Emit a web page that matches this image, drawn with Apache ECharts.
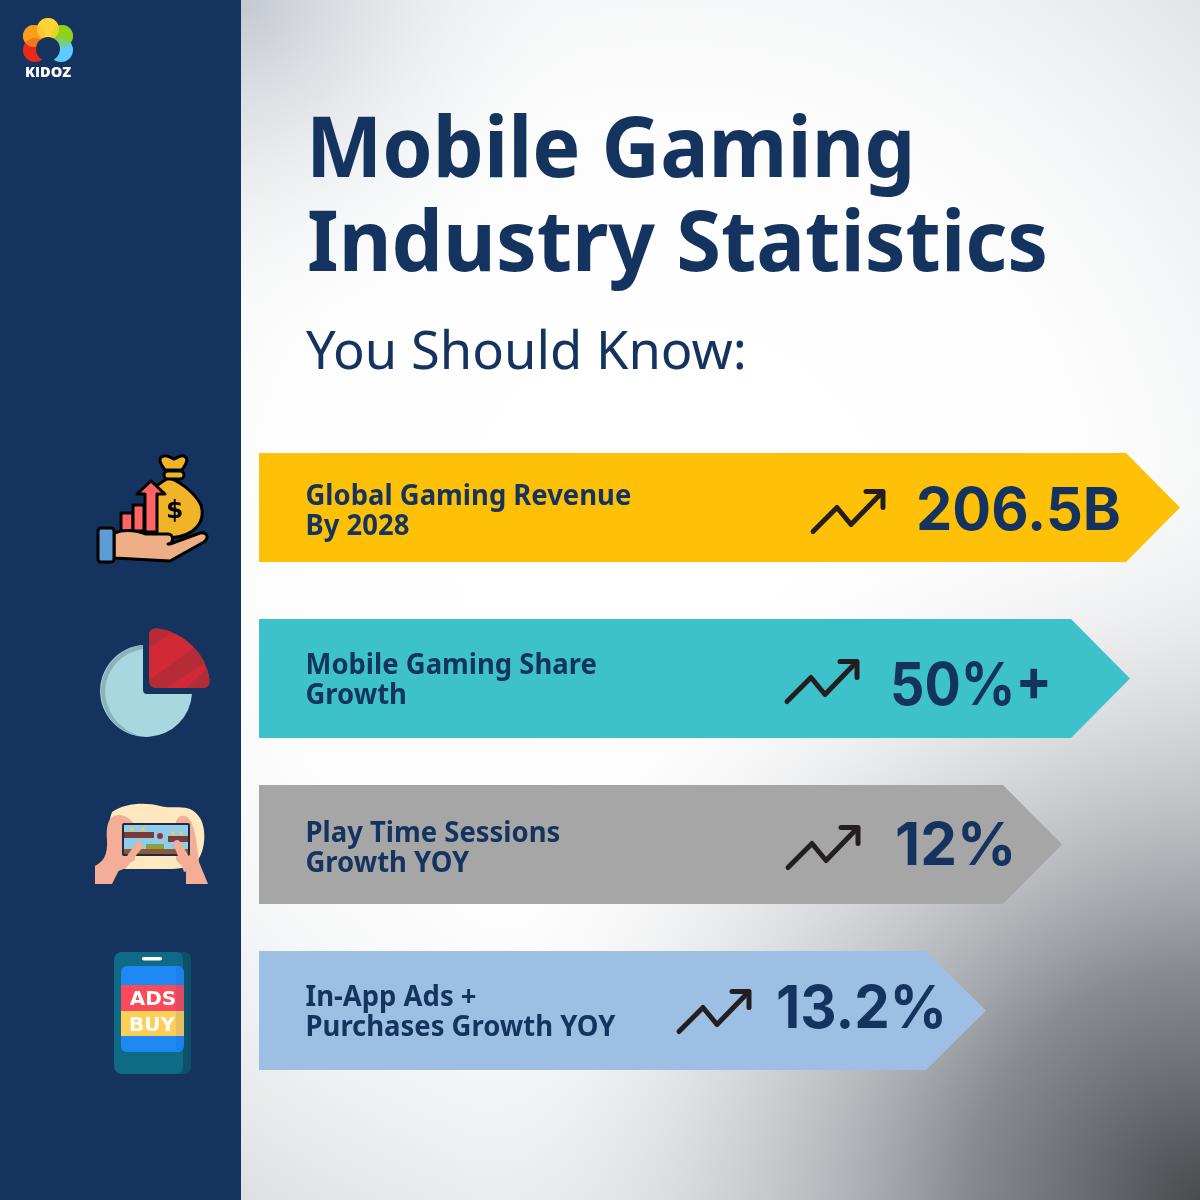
<!DOCTYPE html>
<html><head><meta charset="utf-8">
<style>html,body{margin:0;padding:0;background:#fff}#c{width:1200px;height:1200px}</style>
<script src="https://cdn.jsdelivr.net/npm/echarts@6/dist/echarts.min.js"></script>
</head><body><div id="c"></div>
<script>
// ---- data ----
const categories = ['Global Gaming Revenue\nBy 2028','Mobile Gaming Share\nGrowth','Play Time Sessions\nGrowth YOY','In-App Ads +\nPurchases Growth YOY'];
const valueLabels = ['206.5B','50%+','12%','13.2%'];
const arrowLengths = [921,871,803,727];
// ---- style ----
const NAVY='#14345f', INK='#231f20';
const barColors=['#ffc107','#3dc2cb','#a6a6a6','#9dbfe3'];
const rowHeights=[109,119,119,119];
const rowShift=[-5,0,0,0];
const headLen=[54,59,59,60];
const labelShift=[5,3,5,3];
const labelGap=[30,30,30,30];
const trendX=[812,786,787,678];
const trendShift=[14,13,13,11];
const valueX=[916,890,895,776];
const valueShift=[4,8,2,-1];
const valueScale=[0.978,0.913,0.99,0.955];
const W=1200,H=1200;

function renderArrow(params,api){
  const i=params.dataIndex;
  const base=api.coord([0,i]);
  const tip=api.coord([api.value(0),i]);
  const cy=base[1]+rowShift[i];
  const h=rowHeights[i], x0=259, tx=x0+tip[0];
  const lines=categories[i].split('\n');
  const lc=cy+labelShift[i];
  const tStyle={fill:'none',stroke:INK,lineWidth:5,lineCap:'round',lineJoin:'round'};
  const lab=(t,y)=>({type:'text',x:305.5,y,scaleX:0.98,style:{text:t,x:0,y:0,fill:NAVY,font:'700 28px "Noto Sans"',textVerticalAlign:'middle',textAlign:'left'}});
  const children=[
    {type:'polygon',shape:{points:[[x0,cy-h/2],[tx-headLen[i],cy-h/2],[tx,cy],[tx-headLen[i],cy+h/2],[x0,cy+h/2]]},style:{fill:barColors[i]}},
    lab(lines[0],lc-labelGap[i]/2),
    lab(lines[1],lc+labelGap[i]/2),
    {type:'text',x:valueX[i],y:cy+valueShift[i]+1,scaleX:valueScale[i],style:{text:valueLabels[i],x:0,y:0,fill:NAVY,font:'700 59px Inter',textVerticalAlign:'middle',textAlign:'left'}},
    {type:'polyline',x:trendX[i],y:cy+trendShift[i]-30,shape:{points:[[1,40],[25,16],[39,33],[70,1]]},style:tStyle},
    {type:'polyline',x:trendX[i],y:cy+trendShift[i]-30,shape:{points:[[54,0],[71,0],[71,16]]},style:tStyle}
  ];
  return {type:'group',children};
}

const panel={x:241,y:0,width:959,height:1200};
const bg=[
 {type:'rect',z:-10,shape:panel,style:{fill:'#ffffff'}},
 {type:'rect',z:-9,shape:panel,style:{fill:{type:'radial',x:0.45,y:0.45,r:0.85,colorStops:[{offset:0,color:'rgba(255,255,255,0)'},{offset:0.5,color:'rgba(245,246,247,0.2)'},{offset:1,color:'rgba(215,218,222,0.95)'}]}}},
 {type:'rect',z:-8,shape:panel,style:{fill:{type:'radial',x:0,y:0,r:0.38,colorStops:[{offset:0,color:'rgba(170,178,188,0.6)'},{offset:1,color:'rgba(255,255,255,0)'}]}}},
 {type:'rect',z:-7,shape:panel,style:{fill:{type:'radial',x:1,y:1,r:0.8,colorStops:[{offset:0,color:'rgba(70,72,76,0.98)'},{offset:0.3,color:'rgba(110,114,120,0.8)'},{offset:0.65,color:'rgba(175,178,184,0.4)'},{offset:1,color:'rgba(255,255,255,0)'}]}}},
 {type:'rect',z:-6,shape:{x:0,y:0,width:241,height:1200},style:{fill:NAVY}}
];
const txt=(t,x,y,font,sx)=>({type:'text',z:20,x,y,scaleX:sx||1,style:{text:t,x:0,y:0,font,fill:NAVY,textVerticalAlign:'middle'}});
const titles=[
 txt('Mobile Gaming',306,153,'700 84px "Noto Sans"',0.963),
 txt('Industry Statistics',307,247,'700 84px "Noto Sans"',0.969),
 txt('You Should Know:',306,354,'400 52.5px "Noto Sans"')
];
const circ=(cx,cy,r,fill,op)=>({type:'circle',shape:{cx,cy,r},style:{fill,opacity:op==null?1:op}});
const p=(d,fill,stroke,lw,op)=>{
  const b=echarts.graphic.makePath(d,{}).getBoundingRect();
  return {type:'path',shape:{pathData:d,layout:'cover',x:b.x,y:b.y,width:b.width,height:b.height},style:{fill:fill||'none',stroke:stroke||null,lineWidth:lw||0,opacity:op==null?1:op,lineJoin:'round',lineCap:'round'}};
};
const rect=(x,y,w,h,fill,r,extra)=>({type:'rect',shape:{x,y,width:w,height:h,r:r||0},style:Object.assign({fill},extra||{})});
const logo=[
 circ(34,36,11,'#fb9f1c'),circ(62,36,11,'#8fd019'),circ(48,29,11,'#ffd335'),
 circ(35,50,12,'#e8291c'),circ(61,50,12,'#5ecbff'),
 circ(34,36,11,'#fb9f1c',.65),circ(62,36,11,'#8fd019',.55),
 circ(48,29,11,'#ffd335',.6),
 circ(48,49,12,NAVY),
 rect(44,57,8,7,NAVY),
 {type:'text',style:{text:'KIDOZ',x:25,y:72.5,font:'800 14.5px "Open Sans"',fill:'#ffffff',textVerticalAlign:'middle'}}
];
const K='#000';
const moneyIcon=[
 p('M165 470 C159 462 158 457 164 456 C168 455 171 458 174 459 C177 458 180 455 184 456 C189 458 187 463 182 470 Z','#f0b429',K,3),
 p('M168 478 C176 479 194 491 201 505 C206 521 196 536 170 538 L150 538 L150 490 Z','#f0b429',K,3),
 rect(164,471,20,8,'#f0b429',4,{stroke:K,lineWidth:3}),
 {type:'text',style:{text:'$',x:166,y:511,font:'700 25px "DejaVu Sans"',fill:'#000',textVerticalAlign:'middle'}},
 rect(121,513,12,18,'#ff6464',0,{stroke:K,lineWidth:3}),
 rect(133,505,11,26,'#ff6464',0,{stroke:K,lineWidth:3}),
 p('M145 532 L145 494 L137 494 L151 481 L165 494 L157 494 L157 532 Z','#ff6464',K,3),
 p('M114 533 C125 529 135 530 146 534 L168 534 C174 534 174 543 168 544 L170 544 L200 533 C208 532 209 538 204 542 L170 561 L114 558 Z','#eeaf86',K,3),
 p('M143 543.5 L170 543.5','none',K,3),
 rect(98,528,16,34,'#5c9bd6',3,{stroke:K,lineWidth:3})
];
const pieIcon=[
 p('M143 645 A46 46 0 1 0 192 694 L147 694 C144.5 694 143 692.5 143 690 Z','#a9d7df'),
 p('M143 645 A46 46 0 0 0 101 690 C101 712 116 733 140 736 C120 730 105 712 105 690 A44 44 0 0 1 143 649 Z','#8cb3ba'),
 p('M149 636 Q149 628 157 628.6 A60 60 0 0 1 209.5 680 Q210 688 202 688 L157 688 Q149 688 149 680 Z','#d12a36'),
 p('M149 648 L149 636 Q149 628 157 628.6 Q165 629.5 172 632 Z','#b62c36'),
 p('M149 680 L194 648 Q200 654 205 663 L166 688 L157 688 Q150 688 149 680 Z','#b62c36'),
 p('M186 688 L207 668 Q209 674 209.5 680 Q210 688 202 688 Z','#b62c36')
];
const playIcon=[
 p('M112 812 C125 803 145 802 160 806 C175 810 190 802 200 818 C207 830 205 850 198 860 C188 870 175 869 160 869 L125 869 C110 860 105 830 112 812 Z','#ffe8bf'),
 p('M95 884 L95 866 C103 862 108 855 107 840 C106 826 108 816 118 815 C126 815 132 820 135 825 L135 860 L120 868 L112 884 Z','#f4ad97'),
 p('M208 884 L199 862 C197 845 196 830 190 820 C186 814 178 814 176 822 L176 860 L186 870 L186 884 Z','#f4ad97'),
 rect(123,824,66,31,'#8fcde9',1,{stroke:'#1f2a44',lineWidth:2}),
 rect(124,832,30,6,'#7a3b3b'),rect(168,836,20,6,'#7a3b3b'),rect(146,844,18,5,'#8c9f45'),rect(124,849,64,5,'#8c5a3a'),
 circ(132,829,2,'#f3c75c'),circ(143,829,2,'#f3c75c'),circ(173,833,2,'#f3c75c'),circ(181,833,2,'#f3c75c'),circ(160,836,3,'#9c2f3b'),
 p('M116 872 L136 843 C140 839 144 842 142 848 L126 868 Z','#f4ad97'),
 p('M173 843 C176 838 180 840 182 845 L196 868 L184 872 Z','#f4ad97')
];
const adsIcon=[
 rect(114,952,77,122,'#0f6a85',8),
 p('M183 952 Q191 952 191 960 L191 1066 Q191 1074 183 1074 L176 1074 Q183 1074 183 1066 L183 960 Q183 952 176 952 Z','#0c5069'),
 rect(142,957,20,3.5,'#ffffff',2),
 rect(121,966,63,86,'#1e88f5',6),
 rect(121,985,63,26,'#fb4a5a'),
 rect(121,1011,63,25,'#fdcf55'),
 rect(176,967,8,84,'rgba(0,60,180,0.10)',3),
 {type:'text',style:{text:'ADS',x:153,y:1000,font:'800 20px "DejaVu Sans"',fill:'#fff',textAlign:'center',textVerticalAlign:'middle'}},
 {type:'text',style:{text:'BUY',x:152,y:1026,font:'800 20px "DejaVu Sans"',fill:'#fff',textAlign:'center',textVerticalAlign:'middle'}}
];
const icons=[].concat(logo,moneyIcon,pieIcon,playIcon,adsIcon);

const chart=echarts.init(document.getElementById('c'),null,{renderer:'canvas',width:W,height:H});
chart.setOption({
  animation:false,
  backgroundColor:'#ffffff',
  grid:{left:0,width:W,top:429.5,height:664},
  xAxis:{type:'value',min:0,max:W,show:false},
  yAxis:{type:'category',data:categories,inverse:true,show:false},
  series:[
    {type:'custom',data:arrowLengths.map((v,i)=>[v,i]),encode:{x:0,y:1},renderItem:renderArrow,z:5,clip:false,silent:true},
    {type:'custom',data:[[0,0]],encode:{x:0,y:1},renderItem:()=>({type:'group',children:icons}),z:6,clip:false,silent:true}
  ],
  graphic:{elements:[].concat(bg,titles)}
});
</script></body></html>
